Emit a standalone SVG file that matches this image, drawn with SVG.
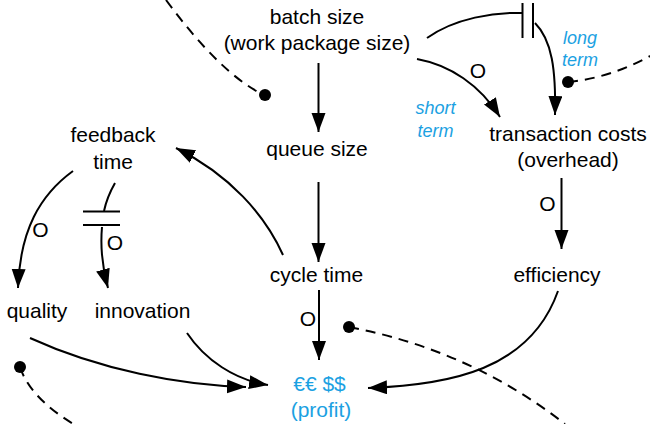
<svg xmlns="http://www.w3.org/2000/svg" width="650" height="424" viewBox="0 0 650 424">
<defs>
<marker id="ah" markerUnits="userSpaceOnUse" markerWidth="20" markerHeight="16" refX="19" refY="7" orient="auto">
<path d="M0,0 L19,7 L0,14 z" fill="#000"/>
</marker>
<style>
text{font-family:"Liberation Sans",Arial,Helvetica,sans-serif;font-size:21px;fill:#000;text-anchor:middle}
.blue{fill:#1ba1e2}
.it{font-style:italic;font-size:18px;fill:#1ba1e2}
.c{fill:none;stroke:#000;stroke-width:2}
.a{marker-end:url(#ah)}
.d{fill:none;stroke:#000;stroke-width:2;stroke-dasharray:10 7}
.dot{fill:#000}
</style>
</defs>
<rect width="650" height="424" fill="#fff"/>
<g id="connectors">
<path class="c a" d="M318.5,63 L318.5,132"/>
<path class="c a" d="M318.5,182 L318.5,262"/>
<path class="c a" d="M319,290 L319,360"/>
<path class="c a" d="M561.5,178 L561.5,249"/>
<path class="c a" d="M283,255 C265,215 230,175 176,148"/>
<path class="c a" d="M73,171 C40,195 20,230 18,288"/>
<path class="c" d="M115,183 Q107,197 104,211"/>
<path class="c a" d="M102,227 C100,250 103,270 108,288"/>
<path class="c" d="M83,211.5 H120 M83,225 H120"/>
<path class="c a" d="M30,338 C100,370 180,385 246,387"/>
<path class="c a" d="M187,333 C205,360 235,380 268,385"/>
<path class="c a" d="M558,291 C530,370 450,385 368,388"/>
<path class="c a" d="M417,59 C450,65 480,85 500,117"/>
<path class="c" d="M427,38 C455,18 495,12 522,13"/>
<path class="c" d="M522.5,3 V38 M533,3 V38"/>
<path class="c a" d="M535,23 C552,40 556,70 555,115"/>
<path class="d" d="M166,0 Q220,73 262,94"/>
<circle class="dot" cx="265" cy="95" r="6"/>
<path class="d" d="M568,82 Q610,78 650,56"/>
<circle class="dot" cx="568" cy="82" r="6"/>
<path class="d" d="M349,327 Q470,350 565,424"/>
<circle class="dot" cx="349" cy="327" r="6"/>
<path class="d" d="M20,367 Q30,398 75,425"/>
<circle class="dot" cx="20" cy="367" r="6"/>
<text x="478" y="77.5">O</text>
<text x="547.5" y="211">O</text>
<text x="308" y="326">O</text>
<text x="40.5" y="236.5">O</text>
<text x="115" y="250">O</text>
<text class="it" x="435.5" y="114">short</text>
<text class="it" x="435.5" y="137">term</text>
<text class="it" x="580" y="44">long</text>
<text class="it" x="580" y="66">term</text>
</g>
<g id="batch-size"><text x="317" y="24">batch size</text><text x="317" y="50">(work package size)</text></g>
<g id="queue-size"><text x="317" y="156">queue size</text></g>
<g id="cycle-time"><text x="316.5" y="282">cycle time</text></g>
<g id="profit"><text class="blue" x="319.5" y="391">€€ $$</text><text class="blue" x="321" y="417">(profit)</text></g>
<g id="feedback-time"><text x="113" y="142">feedback</text><text x="113" y="169">time</text></g>
<g id="quality"><text x="37" y="318">quality</text></g>
<g id="innovation"><text x="142.5" y="318">innovation</text></g>
<g id="transaction-costs"><text x="568" y="141">transaction costs</text><text x="568" y="167">(overhead)</text></g>
<g id="efficiency"><text x="557" y="282">efficiency</text></g>
</svg>
